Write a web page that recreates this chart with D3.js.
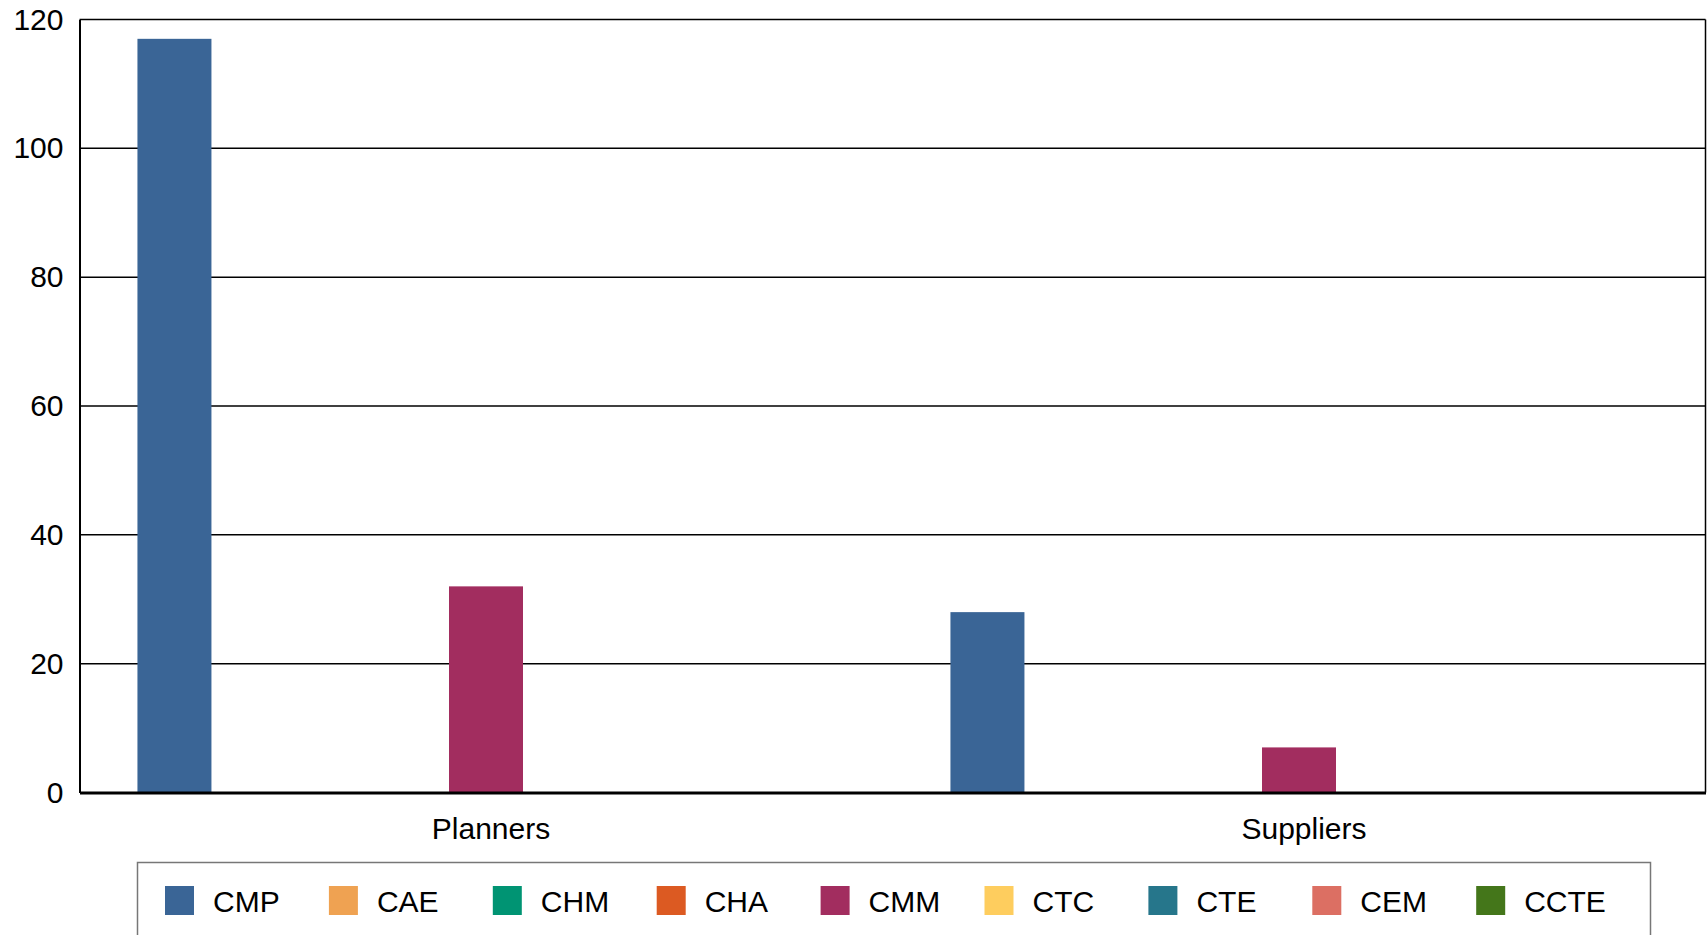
<!DOCTYPE html>
<html>
<head>
<meta charset="utf-8">
<script src="https://cdn.jsdelivr.net/npm/d3@7"></script>
<style>
  html, body { margin: 0; padding: 0; background: #fff; }
  svg text { font-family: "Liberation Sans", Arial, sans-serif; fill: #000; }
</style>
</head>
<body>
<svg width="1707" height="935"></svg>
<script>
var categories = ['Planners', 'Suppliers'];
var series = ['CMP', 'CAE', 'CHM', 'CHA', 'CMM', 'CTC', 'CTE', 'CEM', 'CCTE'];
var colors = ['#3a6596', '#efa252', '#009473', '#dc5a22', '#a22d5f', '#fecd5e', '#26768b', '#dc6f63', '#44761a'];
// values per series, in order of categories
var values = {
    CMP: [117, 28],
    CAE: [0, 0],
    CHM: [0, 0],
    CHA: [0, 0],
    CMM: [32, 7],
    CTC: [0, 0],
    CTE: [0, 0],
    CEM: [0, 0],
    CCTE: [0, 0]
};
var yTicks = [0, 20, 40, 60, 80, 100, 120];

(function() {
    var svg = d3.select('svg');
    var mLeft = 79.5, mRight = 1705.5, mTop = 19.5, mBottom = 792.5;
    var font = '"Liberation Sans", Arial, sans-serif';

    var x0 = d3.scaleBand().domain(categories).range([mLeft, mRight]).padding(0);
    var groupPad = 56;
    var x1 = d3.scaleBand().domain(series)
        .range([groupPad, x0.bandwidth() - groupPad])
        .paddingInner(0.05).paddingOuter(0.025);
    var y = d3.scaleLinear().domain([0, 120]).range([mBottom, mTop]);
    var color = d3.scaleOrdinal().domain(series).range(colors);

    // grid lines
    svg.append('g')
        .selectAll('line')
        .data(yTicks.filter(function(d) { return d > 0; }))
        .enter()
        .append('line')
        .attr('x1', mLeft).attr('x2', mRight)
        .attr('y1', function(d) { return y(d); })
        .attr('y2', function(d) { return y(d); })
        .attr('stroke', '#000')
        .attr('stroke-width', 1.5);

    // right border
    svg.append('line')
        .attr('x1', mRight).attr('x2', mRight)
        .attr('y1', mTop).attr('y2', mBottom)
        .attr('stroke', '#000').attr('stroke-width', 1.5);

    // bars
    var rows = [];
    categories.forEach(function(c, ci) {
        series.forEach(function(s) {
            rows.push({ cat: c, key: s, value: values[s][ci] });
        });
    });

    svg.append('g')
        .selectAll('rect')
        .data(rows.filter(function(d) { return d.value > 0; }))
        .enter()
        .append('rect')
        .attr('x', function(d) { return x0(d.cat) + x1(d.key); })
        .attr('width', x1.bandwidth())
        .attr('y', function(d) { return y(d.value); })
        .attr('height', function(d) { return y(0) - y(d.value); })
        .attr('fill', function(d) { return color(d.key); });

    // y axis
    var yAxis = svg.append('g')
        .attr('transform', 'translate(' + mLeft + ',0)')
        .call(d3.axisLeft(y).tickValues(yTicks).tickSize(0).tickPadding(16));
    yAxis.select('.domain').attr('stroke', '#000').attr('stroke-width', 2);
    yAxis.selectAll('text').style('font-size', '30px').style('font-family', font);

    // x axis
    var xAxis = svg.append('g')
        .attr('transform', 'translate(0,' + mBottom + ')')
        .call(d3.axisBottom(x0).tickSize(0).tickPadding(25));
    xAxis.select('.domain').attr('stroke', '#000').attr('stroke-width', 3);
    xAxis.selectAll('text').style('font-size', '30px').style('font-family', font)
        .attr('dx', 5);

    // legend
    var legend = svg.append('g');
    legend.append('rect')
        .attr('x', 137.5).attr('y', 862.5)
        .attr('width', 1513).attr('height', 120)
        .attr('fill', 'none').attr('stroke', '#777').attr('stroke-width', 1.5);

    var item = legend.selectAll('g.item')
        .data(series)
        .enter()
        .append('g')
        .attr('class', 'item')
        .attr('transform', function(d, i) { return 'translate(' + (165 + i * 163.9) + ',886)'; });

    item.append('rect')
        .attr('width', 29).attr('height', 29)
        .attr('fill', function(d) { return color(d); });

    item.append('text')
        .attr('x', 48).attr('y', 26)
        .style('font-size', '30px')
        .text(function(d) { return d; });
})();
</script>
</body>
</html>
